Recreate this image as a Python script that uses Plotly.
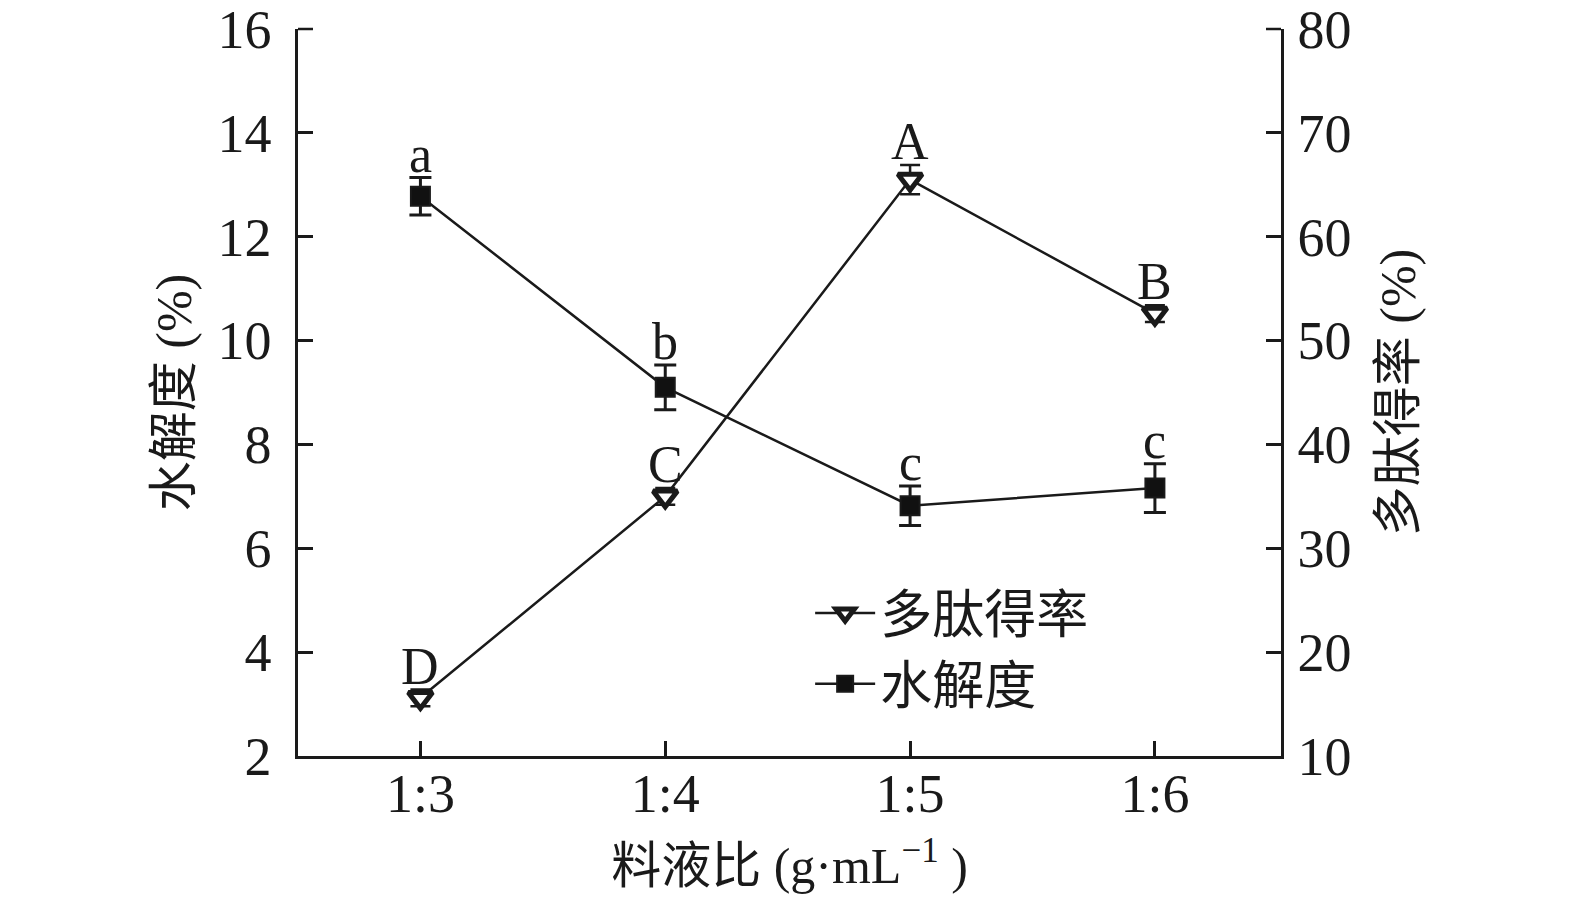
import plotly.graph_objects as go

categories = ["1:3", "1:4", "1:5", "1:6"]
dh_values = [12.78, 9.1, 6.82, 7.16]          # 水解度 (%), left axis
dh_errors = [0.36, 0.43, 0.38, 0.47]
dh_letters = ["a", "b", "c", "c"]
yield_values = [15.6, 35.0, 65.5, 52.6]        # 多肽得率 (%), right axis
yield_errors = [0.8, 0.8, 1.4, 0.8]
yield_letters = ["D", "C", "A", "B"]

FONT = "Liberation Serif, Times New Roman, Noto Sans CJK SC, serif"
BLACK = "#1a1a1a"

fig = go.Figure()

fig.add_trace(go.Scatter(
    x=categories, y=yield_values, name="多肽得率", yaxis="y2",
    mode="lines+markers",
    line=dict(color=BLACK, width=2.5),
    marker=dict(symbol="triangle-down", size=21, color="white",
                line=dict(color=BLACK, width=5)),
    error_y=dict(type="data", array=yield_errors, color=BLACK,
                 thickness=2.5, width=10),
))

fig.add_trace(go.Scatter(
    x=categories, y=dh_values, name="水解度", yaxis="y",
    mode="lines+markers",
    line=dict(color=BLACK, width=2.5),
    marker=dict(symbol="square", size=19, color="#111111",
                line=dict(color=BLACK, width=2)),
    error_y=dict(type="data", array=dh_errors, color=BLACK,
                 thickness=3, width=11),
))

annotations = []
for c, v, e, t in zip(categories, dh_values, dh_errors, dh_letters):
    annotations.append(dict(x=c, y=v + e, xref="x", yref="y", text=t,
                            showarrow=False, yanchor="bottom", yshift=-7,
                            font=dict(family=FONT, size=52, color=BLACK)))
for c, v, e, t in zip(categories, yield_values, yield_errors, yield_letters):
    annotations.append(dict(x=c, y=v + e, xref="x", yref="y2", text=t,
                            showarrow=False, yanchor="bottom", yshift=-7,
                            font=dict(family=FONT, size=52, color=BLACK)))

axis_common = dict(
    showline=True, linecolor=BLACK, linewidth=2.5,
    ticks="inside", ticklen=15, tickwidth=2.5, tickcolor=BLACK,
    showgrid=False, zeroline=False, automargin=False,
    ticklabeloverflow="allow",
    tickfont=dict(family=FONT, size=54, color=BLACK),
)

# tick marks at the very top of both y axes (plotly omits ticks on the range edge)
PLOT_W = 984
shapes = [
    dict(type="line", xref="paper", yref="paper", x0=0, x1=15 / PLOT_W, y0=1, y1=1,
         line=dict(color=BLACK, width=2.5)),
    dict(type="line", xref="paper", yref="paper", x0=1 - 15 / PLOT_W, x1=1, y0=1, y1=1,
         line=dict(color=BLACK, width=2.5)),
]

fig.update_layout(
    width=1575, height=906,
    margin=dict(l=290, r=302, t=21, b=158),
    paper_bgcolor="white", plot_bgcolor="white",
    font=dict(family=FONT, color=BLACK),
    showlegend=True,
    legend=dict(x=0.521, y=0.252, xanchor="left", yanchor="top",
                font=dict(family=FONT, size=52, color=BLACK),
                bgcolor="rgba(0,0,0,0)", tracegroupgap=0,
                itemwidth=60),
    xaxis=dict(**axis_common, type="category", range=[-0.5, 3.515],
               ticklabelstandoff=-12,
               title=dict(text="料液比 (g·mL<sup>−1</sup> )", standoff=26,
                          font=dict(family=FONT, size=50, color=BLACK))),
    yaxis=dict(**axis_common, range=[2, 16], tickvals=[2, 4, 6, 8, 10, 12, 14, 16],
               ticklabelstandoff=13,
               title=dict(text="水解度 (%)", standoff=10,
                          font=dict(family=FONT, size=50, color=BLACK))),
    yaxis2=dict(**axis_common, range=[10, 80], tickvals=[10, 20, 30, 40, 50, 60, 70, 80],
                overlaying="y", side="right", ticklabelstandoff=3,
                title=dict(text="多肽得率 (%)", standoff=30,
                           font=dict(family=FONT, size=50, color=BLACK))),
    annotations=annotations,
    shapes=shapes,
)

fig.write_html("out.html")
